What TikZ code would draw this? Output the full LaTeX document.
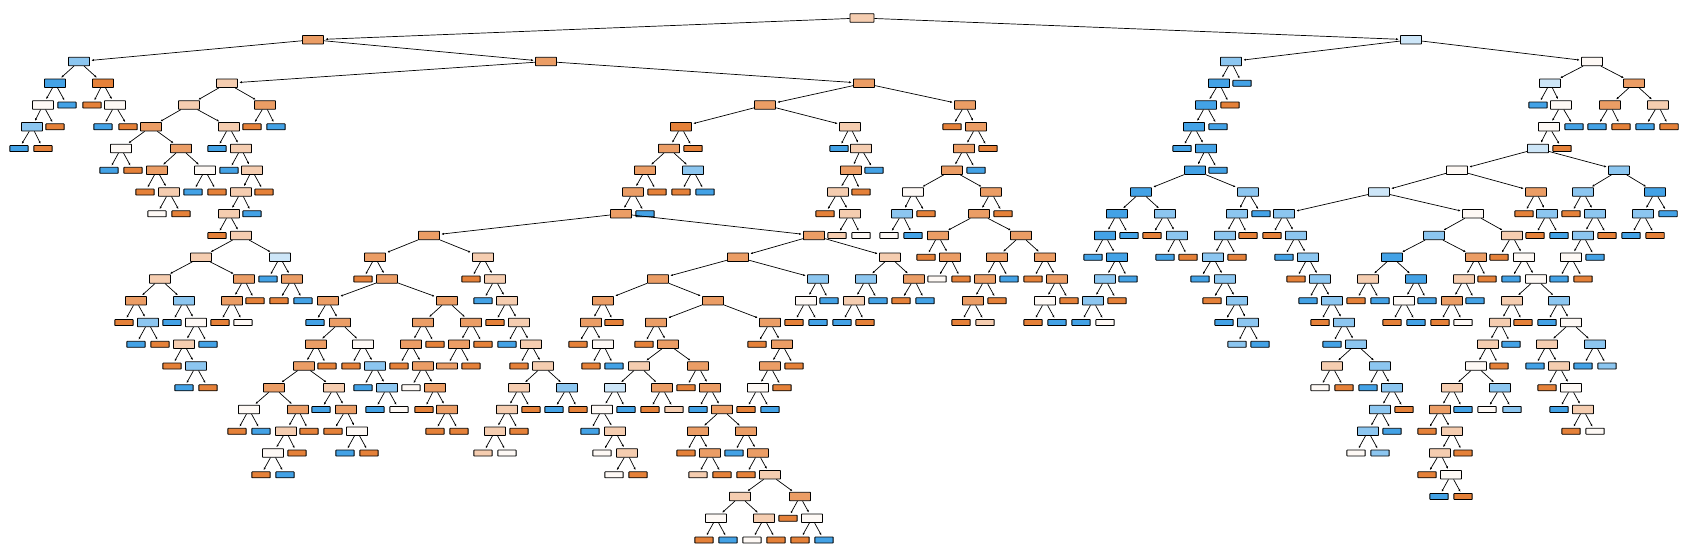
\documentclass[tikz,border=0pt]{standalone}
\usetikzlibrary{arrows.meta}

\definecolor{treeorange}{HTML}{E58139}
\definecolor{treeblue}{HTML}{399DE5}
\colorlet{colO}{treeorange}
\colorlet{colo}{treeorange!78!white}
\colorlet{colp}{treeorange!40!white}
\colorlet{colw}{treeorange!5!white}
\colorlet{colq}{treeblue!25!white}
\colorlet{colb}{treeblue!58!white}
\colorlet{colB}{treeblue!95!white}

\begin{document}
\begin{tikzpicture}[
        x=1pt, y=-21.75pt,
        splitbox/.style={rectangle, draw, line width=0.85pt, rounded corners=0.5pt, minimum width=21pt, minimum height=8.4pt, inner sep=0pt},
        leafbox/.style={splitbox, minimum width=18.3pt, minimum height=6pt},
        treeedge/.style={-{Latex[length=2.4pt,width=2.2pt]}, line width=0.7pt, shorten >=1.5pt}
    ]
    \useasboundingbox (0pt,18pt) rectangle (1688pt,-540pt);

    % Root
    \node[splitbox, minimum width=24pt, fill=colp] (L0-862) at (862,0) {};

    % Level 1
    \foreach \x/\c/\k/\p in {313/o/splitbox/862, 1411/q/splitbox/862}{
        \node[\k, fill=col\c] (L1-\x) at (\x,1) {};
        \draw[treeedge] (L0-\p) -- (L1-\x);
    }

    % Level 2
    \foreach \x/\c/\k/\p in {79/b/splitbox/313, 546/o/splitbox/313, 1231/b/splitbox/1411, 1592/w/splitbox/1411}{
        \node[\k, fill=col\c] (L2-\x) at (\x,2) {};
        \draw[treeedge] (L1-\p) -- (L2-\x);
    }

    % Level 3
    \foreach \x/\c/\k/\p in {55/B/splitbox/79, 103/O/splitbox/79, 227/p/splitbox/546, 864/o/splitbox/546,
        1219/B/splitbox/1231, 1242/B/leafbox/1231, 1550/q/splitbox/1592, 1634/o/splitbox/1592}{
        \node[\k, fill=col\c] (L3-\x) at (\x,3) {};
        \draw[treeedge] (L2-\p) -- (L3-\x);
    }

    % Level 4
    \foreach \x/\c/\k/\p in {43/w/splitbox/55, 67/B/leafbox/55, 92/O/leafbox/103, 115/w/splitbox/103,
        189/p/splitbox/227, 265/o/splitbox/227, 765/o/splitbox/864, 965/o/splitbox/864,
        1206/B/splitbox/1219, 1230/O/leafbox/1219, 1538/B/leafbox/1550, 1561/w/splitbox/1550,
        1610/o/splitbox/1634, 1658/p/splitbox/1634}{
        \node[\k, fill=col\c] (L4-\x) at (\x,4) {};
        \draw[treeedge] (L3-\p) -- (L4-\x);
    }

    % Level 5
    \foreach \x/\c/\k/\p in {32/b/splitbox/43, 55/O/leafbox/43, 103/B/leafbox/115, 128/O/leafbox/115,
        151/o/splitbox/189, 229/p/splitbox/189, 252/O/leafbox/265, 276/B/leafbox/265,
        681/O/splitbox/765, 850/p/splitbox/765, 952/O/leafbox/965, 976/o/splitbox/965,
        1194/B/splitbox/1206, 1218/B/leafbox/1206, 1549/w/splitbox/1561, 1574/B/leafbox/1561,
        1597/B/leafbox/1610, 1621/O/leafbox/1610, 1645/B/leafbox/1658, 1669/O/leafbox/1658}{
        \node[\k, fill=col\c] (L5-\x) at (\x,5) {};
        \draw[treeedge] (L4-\p) -- (L5-\x);
    }

    % Level 6
    \foreach \x/\c/\k/\p in {19/B/leafbox/32, 43/O/leafbox/32, 121/w/splitbox/151, 181/o/splitbox/151,
        217/B/leafbox/229, 241/p/splitbox/229, 669/o/splitbox/681, 693/O/leafbox/681,
        839/B/leafbox/850, 861/p/splitbox/850, 964/o/splitbox/976, 988/O/leafbox/976,
        1182/B/leafbox/1194, 1206/B/splitbox/1194, 1538/q/splitbox/1549, 1562/O/leafbox/1549}{
        \node[\k, fill=col\c] (L6-\x) at (\x,6) {};
        \draw[treeedge] (L5-\p) -- (L6-\x);
    }

    % Level 7
    \foreach \x/\c/\k/\p in {109/B/leafbox/121, 133/O/leafbox/121, 157/o/splitbox/181, 205/w/splitbox/181,
        229/B/leafbox/241, 252/p/splitbox/241, 645/o/splitbox/669, 693/b/splitbox/669,
        851/o/splitbox/861, 874/B/leafbox/861, 952/o/splitbox/964, 976/B/leafbox/964,
        1195/B/splitbox/1206, 1218/B/leafbox/1206, 1457/w/splitbox/1538, 1619/b/splitbox/1538}{
        \node[\k, fill=col\c] (L7-\x) at (\x,7) {};
        \draw[treeedge] (L6-\p) -- (L7-\x);
    }

    % Level 8
    \foreach \x/\c/\k/\p in {145/O/leafbox/157, 169/p/splitbox/157, 193/B/leafbox/205, 217/O/leafbox/205,
        241/p/splitbox/252, 264/O/leafbox/252, 633/o/splitbox/645, 657/O/leafbox/645,
        681/O/leafbox/693, 705/B/leafbox/693, 838/p/splitbox/851, 861/O/leafbox/851,
        913/w/splitbox/952, 991/o/splitbox/952, 1141/B/splitbox/1195, 1248/b/splitbox/1195,
        1379/q/splitbox/1457, 1536/o/splitbox/1457, 1583/b/splitbox/1619, 1655/B/splitbox/1619}{
        \node[\k, fill=col\c] (L8-\x) at (\x,8) {};
        \draw[treeedge] (L7-\p) -- (L8-\x);
    }

    % Level 9
    \foreach \x/\c/\k/\p in {157/w/leafbox/169, 181/O/leafbox/169, 229/p/splitbox/241, 252/B/leafbox/241,
        621/o/splitbox/633, 645/B/leafbox/633, 825/O/leafbox/838, 850/p/splitbox/838,
        902/b/splitbox/913, 926/O/leafbox/913, 979/o/splitbox/991, 1003/O/leafbox/991,
        1117/B/splitbox/1141, 1165/b/splitbox/1141, 1237/b/splitbox/1248, 1261/B/leafbox/1248,
        1284/b/splitbox/1379, 1473/w/splitbox/1379, 1524/O/leafbox/1536, 1547/b/splitbox/1536,
        1571/O/leafbox/1583, 1595/b/splitbox/1583, 1643/b/splitbox/1655, 1668/B/leafbox/1655}{
        \node[\k, fill=col\c] (L9-\x) at (\x,9) {};
        \draw[treeedge] (L8-\p) -- (L9-\x);
    }

    % Level 10
    \foreach \x/\c/\k/\p in {217/O/leafbox/229, 241/p/splitbox/229, 429/o/splitbox/621, 814/o/splitbox/621,
        837/p/leafbox/850, 861/w/leafbox/850, 889/w/leafbox/902, 913/B/leafbox/902,
        938/o/splitbox/979, 1021/o/splitbox/979, 1105/B/splitbox/1117, 1129/B/leafbox/1117,
        1152/O/leafbox/1165, 1177/b/splitbox/1165, 1225/b/splitbox/1237, 1248/O/leafbox/1237,
        1272/O/leafbox/1284, 1296/b/splitbox/1284, 1434/b/splitbox/1473, 1512/p/splitbox/1473,
        1535/O/leafbox/1547, 1559/B/leafbox/1547, 1583/b/splitbox/1595, 1607/O/leafbox/1595,
        1631/B/leafbox/1643, 1655/O/leafbox/1643}{
        \node[\k, fill=col\c] (L10-\x) at (\x,10) {};
        \draw[treeedge] (L9-\p) -- (L10-\x);
    }

    % Level 11
    \foreach \x/\c/\k/\p in {201/p/splitbox/241, 280/q/splitbox/241, 375/o/splitbox/429, 483/p/splitbox/429,
        738/o/splitbox/814, 890/p/splitbox/814, 926/O/leafbox/938, 950/o/splitbox/938,
        997/o/splitbox/1021, 1045/o/splitbox/1021, 1093/B/leafbox/1105, 1117/B/splitbox/1105,
        1165/B/leafbox/1177, 1188/O/leafbox/1177, 1213/b/splitbox/1225, 1237/O/leafbox/1225,
        1284/B/leafbox/1296, 1308/b/splitbox/1296, 1392/B/splitbox/1434, 1476/o/splitbox/1434,
        1499/O/leafbox/1512, 1524/w/splitbox/1512, 1571/w/splitbox/1583, 1595/B/leafbox/1583}{
        \node[\k, fill=col\c] (L11-\x) at (\x,11) {};
        \draw[treeedge] (L10-\p) -- (L11-\x);
    }

    % Level 12
    \foreach \x/\c/\k/\p in {160/p/splitbox/201, 244/o/splitbox/201, 268/B/leafbox/280, 292/o/splitbox/280,
        363/O/leafbox/375, 387/o/splitbox/375, 471/O/leafbox/483, 495/p/splitbox/483,
        658/o/splitbox/738, 818/b/splitbox/738, 866/b/splitbox/890, 914/o/splitbox/890,
        937/w/leafbox/950, 961/O/leafbox/950, 985/o/splitbox/997, 1009/B/leafbox/997,
        1033/O/leafbox/1045, 1057/o/splitbox/1045, 1105/b/splitbox/1117, 1128/B/leafbox/1117,
        1200/B/leafbox/1213, 1225/b/splitbox/1213, 1296/O/leafbox/1308, 1320/b/splitbox/1308,
        1368/p/splitbox/1392, 1416/B/splitbox/1392, 1464/p/splitbox/1476, 1487/O/leafbox/1476,
        1511/B/leafbox/1524, 1536/w/splitbox/1524, 1559/B/leafbox/1571, 1583/O/leafbox/1571}{
        \node[\k, fill=col\c] (L12-\x) at (\x,12) {};
        \draw[treeedge] (L11-\p) -- (L12-\x);
    }

    % Level 13
    \foreach \x/\c/\k/\p in {136/o/splitbox/160, 184/b/splitbox/160, 232/o/splitbox/244, 255/O/leafbox/244,
        279/O/leafbox/292, 303/B/leafbox/292, 328/o/splitbox/387, 447/o/splitbox/387,
        483/B/leafbox/495, 507/p/splitbox/495, 603/o/splitbox/658, 713/o/splitbox/658,
        806/w/splitbox/818, 829/B/leafbox/818, 854/p/splitbox/866, 878/B/leafbox/866,
        901/O/leafbox/914, 925/B/leafbox/914, 973/o/splitbox/985, 997/O/leafbox/985,
        1045/w/splitbox/1057, 1069/O/leafbox/1057, 1093/b/splitbox/1105, 1117/O/leafbox/1105,
        1212/O/leafbox/1225, 1237/b/splitbox/1225, 1308/B/leafbox/1320, 1332/b/splitbox/1320,
        1356/O/leafbox/1368, 1380/B/leafbox/1368, 1404/w/splitbox/1416, 1427/B/leafbox/1416,
        1452/o/splitbox/1464, 1475/B/leafbox/1464, 1512/p/splitbox/1536, 1559/b/splitbox/1536}{
        \node[\k, fill=col\c] (L13-\x) at (\x,13) {};
        \draw[treeedge] (L12-\p) -- (L13-\x);
    }

    % Level 14
    \foreach \x/\c/\k/\p in {124/O/leafbox/136, 148/b/splitbox/136, 172/B/leafbox/184, 196/w/splitbox/184,
        220/O/leafbox/232, 243/w/leafbox/232, 315/B/leafbox/328, 340/o/splitbox/328,
        423/o/splitbox/447, 471/o/splitbox/447, 495/O/leafbox/507, 519/p/splitbox/507,
        591/o/splitbox/603, 614/O/leafbox/603, 656/o/splitbox/713, 770/o/splitbox/713,
        794/O/leafbox/806, 818/B/leafbox/806, 842/B/leafbox/854, 865/O/leafbox/854,
        961/O/leafbox/973, 985/p/leafbox/973, 1033/O/leafbox/1045, 1057/B/leafbox/1045,
        1081/B/leafbox/1093, 1105/w/leafbox/1093, 1224/B/leafbox/1237, 1248/b/splitbox/1237,
        1320/O/leafbox/1332, 1344/b/splitbox/1332, 1392/O/leafbox/1404, 1416/B/leafbox/1404,
        1440/O/leafbox/1452, 1463/w/leafbox/1452, 1500/p/splitbox/1512, 1523/O/leafbox/1512,
        1547/B/leafbox/1559, 1571/w/splitbox/1559}{
        \node[\k, fill=col\c] (L14-\x) at (\x,14) {};
        \draw[treeedge] (L13-\p) -- (L14-\x);
    }

    % Level 15
    \foreach \x/\c/\k/\p in {136/B/leafbox/148, 160/O/leafbox/148, 184/p/splitbox/196, 208/B/leafbox/196,
        316/o/splitbox/340, 363/w/splitbox/340, 411/o/splitbox/423, 435/O/leafbox/423,
        459/o/splitbox/471, 483/O/leafbox/471, 507/B/leafbox/519, 531/p/splitbox/519,
        578/O/leafbox/591, 603/w/splitbox/591, 644/O/leafbox/656, 668/o/splitbox/656,
        757/O/leafbox/770, 782/o/splitbox/770, 1237/b/leafbox/1248, 1260/B/leafbox/1248,
        1332/B/leafbox/1344, 1356/b/splitbox/1344, 1488/p/splitbox/1500, 1511/B/leafbox/1500,
        1547/p/splitbox/1571, 1595/b/splitbox/1571}{
        \node[\k, fill=col\c] (L15-\x) at (\x,15) {};
        \draw[treeedge] (L14-\p) -- (L15-\x);
    }

    % Level 16
    \foreach \x/\c/\k/\p in {172/O/leafbox/184, 196/b/splitbox/184, 304/o/splitbox/316, 327/O/leafbox/316,
        351/O/leafbox/363, 375/b/splitbox/363, 399/O/leafbox/411, 423/o/splitbox/411,
        471/O/leafbox/459, 519/O/leafbox/531, 543/p/splitbox/531,
        591/O/leafbox/603, 614/B/leafbox/603, 639/p/splitbox/668, 698/o/splitbox/668,
        770/o/splitbox/782, 794/O/leafbox/782, 1332/p/splitbox/1356, 1380/b/splitbox/1356,
        1476/w/splitbox/1488, 1499/O/leafbox/1488, 1535/B/leafbox/1547, 1559/p/splitbox/1547,
        1583/B/leafbox/1595, 1607/b/leafbox/1595}{
        \node[\k, fill=col\c] (L16-\x) at (\x,16) {};
        \draw[treeedge] (L15-\p) -- (L16-\x);
    }
    % a wide leaf
    \node[leafbox, minimum width=21pt, fill=colo] (L16-447) at (447,16) {};
    \draw[treeedge] (L15-459) -- (L16-447);

    % Level 17
    \foreach \x/\c/\k/\p in {184/B/leafbox/196, 208/O/leafbox/196, 274/o/splitbox/304, 334/p/splitbox/304,
        363/B/leafbox/375, 387/b/splitbox/375, 411/w/leafbox/423, 435/o/splitbox/423,
        519/p/splitbox/543, 567/b/splitbox/543, 615/q/splitbox/639, 662/o/splitbox/639,
        686/O/leafbox/698, 710/o/splitbox/698, 758/w/splitbox/770, 782/O/leafbox/770,
        1320/w/leafbox/1332, 1344/O/leafbox/1332, 1368/B/leafbox/1380, 1392/b/splitbox/1380,
        1452/p/splitbox/1476, 1500/b/splitbox/1476, 1547/O/leafbox/1559, 1571/w/splitbox/1559}{
        \node[\k, fill=col\c] (L17-\x) at (\x,17) {};
        \draw[treeedge] (L16-\p) -- (L17-\x);
    }

    % Level 18
    \foreach \x/\c/\k/\p in {249/w/splitbox/274, 298/o/splitbox/274, 321/B/leafbox/334, 346/o/splitbox/334,
        375/B/leafbox/387, 399/w/leafbox/387, 424/O/leafbox/435, 447/o/splitbox/435,
        507/p/splitbox/519, 531/O/leafbox/519, 554/B/leafbox/567, 578/O/leafbox/567,
        602/w/splitbox/615, 626/B/leafbox/615, 650/O/leafbox/662, 674/p/leafbox/662,
        698/B/leafbox/710, 722/o/splitbox/710, 746/O/leafbox/758, 770/B/leafbox/758,
        1380/b/splitbox/1392, 1404/O/leafbox/1392, 1440/o/splitbox/1452, 1463/B/leafbox/1452,
        1487/w/leafbox/1500, 1512/b/leafbox/1500, 1559/B/leafbox/1571, 1583/p/splitbox/1571}{
        \node[\k, fill=col\c] (L18-\x) at (\x,18) {};
        \draw[treeedge] (L17-\p) -- (L18-\x);
    }

    % Level 19
    \foreach \x/\c/\k/\p in {237/O/leafbox/249, 261/B/leafbox/249, 286/p/splitbox/298, 309/O/leafbox/298,
        333/O/leafbox/346, 357/w/splitbox/346, 435/O/leafbox/447, 459/O/leafbox/447,
        495/p/splitbox/507, 519/O/leafbox/507, 590/B/leafbox/602, 615/p/splitbox/602,
        698/o/splitbox/722, 746/o/splitbox/722, 1368/b/splitbox/1380, 1392/B/leafbox/1380,
        1427/O/leafbox/1440, 1452/p/splitbox/1440, 1571/O/leafbox/1583, 1595/w/leafbox/1583}{
        \node[\k, fill=col\c] (L19-\x) at (\x,19) {};
        \draw[treeedge] (L18-\p) -- (L19-\x);
    }

    % Level 20
    \foreach \x/\c/\k/\p in {273/w/splitbox/286, 297/O/leafbox/286, 345/B/leafbox/357, 369/O/leafbox/357,
        483/p/leafbox/495, 507/w/leafbox/495, 602/w/leafbox/615, 627/p/splitbox/615,
        686/O/leafbox/698, 710/o/splitbox/698, 734/B/leafbox/746, 758/o/splitbox/746,
        1356/w/leafbox/1368, 1380/b/leafbox/1368, 1440/p/splitbox/1452, 1463/O/leafbox/1452}{
        \node[\k, fill=col\c] (L20-\x) at (\x,20) {};
        \draw[treeedge] (L19-\p) -- (L20-\x);
    }

    % Level 21
    \foreach \x/\c/\k/\p in {261/O/leafbox/273, 285/B/leafbox/273, 614/w/leafbox/627, 638/O/leafbox/627,
        698/p/leafbox/710, 722/O/leafbox/710, 746/O/leafbox/758, 770/p/splitbox/758,
        1427/O/leafbox/1440, 1451/w/splitbox/1440}{
        \node[\k, fill=col\c] (L21-\x) at (\x,21) {};
        \draw[treeedge] (L20-\p) -- (L21-\x);
    }

    % Level 22
    \foreach \x/\c/\k/\p in {740/p/splitbox/770, 800/o/splitbox/770, 1439/B/leafbox/1451, 1463/O/leafbox/1451}{
        \node[\k, fill=col\c] (L22-\x) at (\x,22) {};
        \draw[treeedge] (L21-\p) -- (L22-\x);
    }

    % Level 23
    \foreach \x/\c/\k/\p in {716/w/splitbox/740, 764/p/splitbox/740, 788/O/leafbox/800, 812/w/splitbox/800}{
        \node[\k, fill=col\c] (L23-\x) at (\x,23) {};
        \draw[treeedge] (L22-\p) -- (L23-\x);
    }

    % Level 24
    \foreach \x/\c/\k/\p in {704/O/leafbox/716, 728/B/leafbox/716, 752/w/leafbox/764, 776/O/leafbox/764,
        800/O/leafbox/812, 824/B/leafbox/812}{
        \node[\k, fill=col\c] (L24-\x) at (\x,24) {};
        \draw[treeedge] (L23-\p) -- (L24-\x);
    }

\end{tikzpicture}
\end{document}
